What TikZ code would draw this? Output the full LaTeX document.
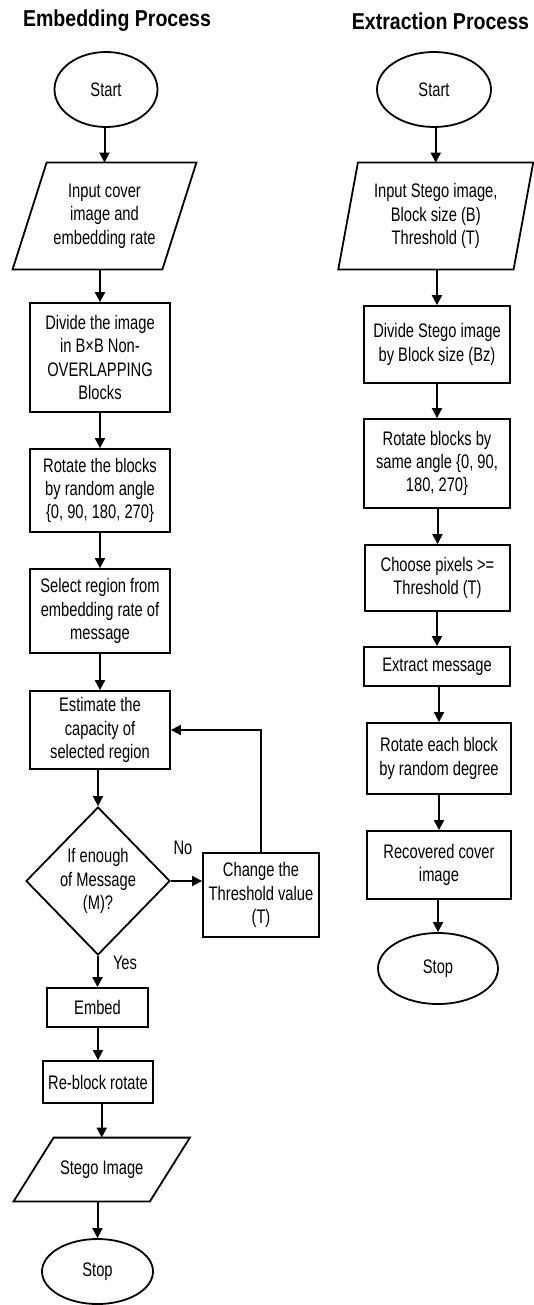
\documentclass[tikz,border=0pt]{standalone}
\usepackage{fontspec}
\setmainfont{Liberation Sans}[FakeStretch=0.75]
\newfontfamily\headfont{Liberation Sans}[FakeStretch=0.85]
\usetikzlibrary{shapes.geometric,arrows.meta}
\begin{document}
\begin{tikzpicture}[x=0.5pt,y=-0.5pt,font=\fontsize{9.8}{11.7}\selectfont,
	box/.style={draw,line width=0.9pt,align=center,inner sep=1pt},
	term/.style={box,ellipse},
	io/.style={align=center,inner sep=1pt},
	edge/.style={line width=0.9pt},
	flow/.style={line width=1pt,-{Triangle[length=5pt,width=5pt]}},
	head/.style={font=\headfont\bfseries\fontsize{11.5}{14}\selectfont}]
	\useasboundingbox (0,0) rectangle (534,1305);
	\node[head] (headL) at (117,21) {Embedding Process};
	\node[head] (headR) at (440.5,21) {Extraction Process};

	\node[term,minimum width=51.5pt,minimum height=37.5pt] (startL) at (106,89.5) {Start};
	\node[io,minimum width=74.5pt,minimum height=53pt] (inputL) at (104.5,216) {Input cover\\image and\\embedding rate};
	\draw[edge] ([xshift=-8.5pt]inputL.south west) -- ([xshift=-8.5pt]inputL.south east) -- ([xshift=8.5pt]inputL.north east) -- ([xshift=8.5pt]inputL.north west) -- cycle;
	\node[box,minimum width=70pt,minimum height=54.5pt] (divL) at (100,357.5) {Divide the image\\in B×B Non-\\OVERLAPPING\\Blocks};
	\node[box,minimum width=70pt,minimum height=41.5pt] (rotL) at (100,490.5) {Rotate the blocks\\by random angle\\\{0, 90, 180, 270\}};
	\node[box,minimum width=70pt,minimum height=42pt] (selL) at (100,611) {Select region from\\embedding rate of\\message};
	\node[box,minimum width=70pt,minimum height=39pt] (estL) at (100,730) {Estimate the\\capacity of\\selected region};
	\node[box,diamond,minimum width=72pt,minimum height=74pt,inner sep=0pt] (ifL) at (98,881) {If enough\\of Message\\(M)?};
	\node[box,minimum width=58pt,minimum height=42pt] (chgL) at (261,895) {Change the\\Threshold value\\(T)};
	\node[box,minimum width=50.5pt,minimum height=19.5pt] (embL) at (97.5,1007.5) {Embed};
	\node[box,minimum width=55pt,minimum height=21pt] (reL) at (98,1082) {Re-block rotate};
	\node[io,minimum width=67.75pt,minimum height=31.5pt] (outL) at (101.75,1169.5) {Stego Image};
	\draw[edge] ([xshift=-10pt]outL.south west) -- ([xshift=-10pt]outL.south east) -- ([xshift=10pt]outL.north east) -- ([xshift=10pt]outL.north west) -- cycle;
	\node[term,minimum width=55.5pt,minimum height=32.5pt] (stopL) at (97.5,1271.5) {Stop};
	\node (noL) at (183,848) {No};
	\node (yesL) at (125,963) {Yes};

	\node[term,minimum width=57pt,minimum height=37.5pt] (startR) at (434,89.5) {Start};
	\node[io,minimum width=87.25pt,minimum height=53pt] (inputR) at (435.75,216) {Input Stego image,\\Block size (B)\\Threshold (T)};
	\draw[edge] ([xshift=-4.9pt]inputR.south west) -- ([xshift=-4.9pt]inputR.south east) -- ([xshift=4.9pt]inputR.north east) -- ([xshift=4.9pt]inputR.north west) -- cycle;
	\node[box,minimum width=73pt,minimum height=38.5pt] (divR) at (437,344.5) {Divide Stego image\\by Block size (Bz)};
	\node[box,minimum width=73pt,minimum height=44.5pt] (rotR) at (437,463.5) {Rotate blocks by\\same angle \{0, 90,\\180, 270\}};
	\node[box,minimum width=72.5pt,minimum height=33pt] (choR) at (437.5,578) {Choose pixels >=\\Threshold (T)};
	\node[box,minimum width=73pt,minimum height=19.5pt] (extR) at (437,666.5) {Extract message};
	\node[box,minimum width=72pt,minimum height=35.5pt] (rotEachR) at (439,758.5) {Rotate each block\\by random degree};
	\node[box,minimum width=72pt,minimum height=34pt] (recR) at (439,865) {Recovered cover\\image};
	\node[term,minimum width=60pt,minimum height=35.5pt] (stopR) at (438,968.5) {Stop};

	\foreach \a/\b in {startL/inputL,inputL/divL,divL/rotL,rotL/selL,selL/estL,estL/ifL,ifL/embL,embL/reL,reL/outL,outL/stopL,
		startR/inputR,inputR/divR,divR/rotR,rotR/choR,choR/extR,extR/rotEachR,rotEachR/recR,recR/stopR}
		\draw[flow] (\b |- \a.south) -- (\b);
	\draw[flow] (ifL.east) -- (ifL.east -| chgL.west);
	\draw[flow] (chgL.north) |- (estL.east);
\end{tikzpicture}
\end{document}
